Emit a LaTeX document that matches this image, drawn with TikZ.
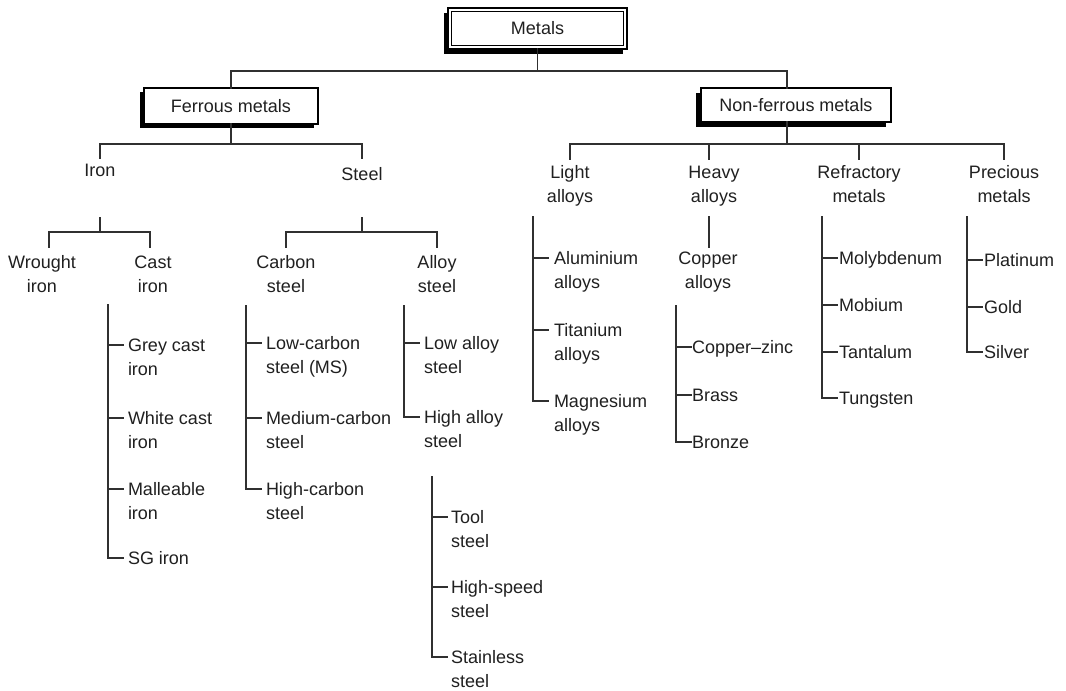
\documentclass[tikz,border=0pt]{standalone}
\usepackage{fontspec}
\setmainfont{Liberation Sans}
\usetikzlibrary{shadows}
\definecolor{ln}{HTML}{303030}
\definecolor{txt}{HTML}{202020}
\newcommand{\twoc}[2]{\vtop{\halign{\hfil##\hfil\cr #1\cr #2\cr}}}
\newcommand{\twol}[2]{\vtop{\halign{##\hfil\cr #1\cr #2\cr}}}
\newcommand{\leafnode}[6]{%
  \coordinate (#1-t) at (#2,#3);
  \node[lbll] (#1) at (#4,#3+6.5) {#6};
  \draw[conn,shorten >=#5pt] (#1-t) -- (#1-t -| #1.west);
}
\begin{document}
\begin{tikzpicture}[x=1pt,y=-1pt,
  font=\fontsize{18}{24}\selectfont,
  conn/.style={draw=ln,line width=1.1pt,line cap=rect},
  lbl/.style={inner sep=0pt,outer sep=0pt,anchor=base,text=txt},
  lbll/.style={lbl,anchor=base west},
  box/.style={draw=black,fill=white,line width=2pt,inner sep=0pt,outer sep=0pt,text=txt}]
\fill[white] (0,0) rectangle (1066,691);
\useasboundingbox (0,0) rectangle (1066,691);

% boxes
\node[box,minimum width=179pt,minimum height=41pt,line width=2.2pt,
  drop shadow={shadow xshift=-4pt,shadow yshift=-5pt,fill=black,opacity=1}] (metals) at (537.5,28.5) {Metals};
\draw[line width=0.8pt] ([shift={(3.5,3.5)}]metals.north west) rectangle ([shift={(-3.5,-3.5)}]metals.south east);
\node[box,minimum width=174pt,minimum height=36pt,
  drop shadow={shadow xshift=-4pt,shadow yshift=-4pt,fill=black,opacity=1}] (ferrous) at (231,106) {Ferrous metals};
\node[box,minimum width=190pt,minimum height=34pt,
  drop shadow={shadow xshift=-5pt,shadow yshift=-5pt,fill=black,opacity=1}] (nonferrous) at (796,105) {Non-ferrous metals};

% category labels
\node[lbl] (iron) at (100,176) {Iron};
\node[lbl] (steel) at (362,180) {Steel};
\node[lbl] (wrought) at (42,268) {\twoc{Wrought}{iron}};
\node[lbl] (cast) at (153,268) {\twoc{Cast}{iron}};
\node[lbl] (carbon) at (286,268) {\twoc{Carbon}{steel}};
\node[lbl] (alloy) at (437,268) {\twoc{Alloy}{steel}};
\node[lbl] (light) at (570,178) {\twoc{Light}{alloys}};
\node[lbl] (heavy) at (714,178) {\twoc{Heavy}{alloys}};
\node[lbl] (refr) at (859,178) {\twoc{Refractory}{metals}};
\node[lbl] (prec) at (1004,178) {\twoc{Precious}{metals}};
\node[lbl] (copper) at (708,264) {\twoc{Copper}{alloys}};

% top connectors
\coordinate (mj) at (537.5,71);
\coordinate (fj) at (231,144);
\coordinate (nfj) at (787,144);
\draw[conn] (metals.south) -- (mj);
\draw[conn] (ferrous.north) |- (mj) -| (nonferrous.north -| nfj);
\draw[conn] (ferrous.south) -- (fj);
\draw[conn,shorten >=5pt] (fj) -| (iron.north);
\draw[conn,shorten >=9pt] (fj) -| (steel.north);
\draw[conn] (nonferrous.south -| nfj) -- (nfj);
\draw[conn,shorten >=6pt] (nfj) -| (light.north);
\draw[conn,shorten >=6pt] (nfj) -| ([xshift=-5pt]heavy.north);
\draw[conn,shorten >=6pt] (nfj) -| (refr.north);
\draw[conn,shorten >=6pt] (nfj) -| (prec.north);

% iron / steel subdivisions
\coordinate (ironj) at (100,232);
\coordinate (steelj) at (362,232);
\draw[conn,shorten <=41pt] (iron.south) -- (ironj);
\draw[conn,shorten >=8pt] (ironj) -| ([xshift=7pt]wrought.north);
\draw[conn,shorten >=8pt] (ironj) -| ([xshift=-3pt]cast.north);
\draw[conn,shorten <=37pt] (steel.south) -- (steelj);
\draw[conn,shorten >=8pt] (steelj) -| (carbon.north);
\draw[conn,shorten >=8pt] (steelj) -| (alloy.north);

% heavy -> copper alloys
\coordinate (heavyst) at (709,217);
\draw[conn,shorten >=4pt] (heavyst) -- (heavyst |- copper.north);

% cast iron
\leafnode{grey}{108}{345}{128}{5}{\twol{Grey cast}{iron}}
\leafnode{whiteci}{108}{418}{128}{5}{\twol{White cast}{iron}}
\leafnode{mall}{108}{489}{128}{5}{\twol{Malleable}{iron}}
\leafnode{sg}{108}{558}{128}{5}{SG iron}
\coordinate (castsp) at (108,305);
\draw[conn] (castsp) -- (sg-t);

% carbon steel
\leafnode{lowc}{246}{343}{266}{5}{\twol{Low-carbon}{steel (MS)}}
\leafnode{medc}{246}{418}{266}{5}{\twol{Medium-carbon}{steel}}
\leafnode{highc}{246}{489}{266}{5}{\twol{High-carbon}{steel}}
\coordinate (carbsp) at (246,306);
\draw[conn] (carbsp) -- (highc-t);

% alloy steel
\leafnode{lowa}{404}{343}{424}{5}{\twol{Low alloy}{steel}}
\leafnode{higha}{404}{417}{424}{5}{\twol{High alloy}{steel}}
\coordinate (allsp) at (404,306);
\draw[conn] (allsp) -- (higha-t);

% high alloy steel
\leafnode{tool}{432}{517}{451}{4}{\twol{Tool}{steel}}
\leafnode{hss}{432}{587}{451}{4}{\twol{High-speed}{steel}}
\leafnode{stain}{432}{657}{451}{4}{\twol{Stainless}{steel}}
\coordinate (hasp) at (432,477);
\draw[conn] (hasp) -- (stain-t);

% light alloys
\leafnode{alu}{533}{258}{554}{6}{\twol{Aluminium}{alloys}}
\leafnode{tita}{533}{330}{554}{6}{\twol{Titanium}{alloys}}
\leafnode{magn}{533}{401}{554}{6}{\twol{Magnesium}{alloys}}
\coordinate (lightsp) at (533,217);
\draw[conn] (lightsp) -- (magn-t);

% copper alloys
\leafnode{cuzn}{676}{347}{692}{1}{Copper--zinc}
\leafnode{brass}{676}{395}{692}{1}{Brass}
\leafnode{bronze}{676}{442}{692}{1}{Bronze}
\coordinate (cusp) at (676,306);
\draw[conn] (cusp) -- (bronze-t);

% refractory metals
\leafnode{moly}{822}{258}{839}{2}{Molybdenum}
\leafnode{mob}{822}{305}{839}{2}{Mobium}
\leafnode{tant}{822}{352}{839}{2}{Tantalum}
\leafnode{tung}{822}{398}{839}{2}{Tungsten}
\coordinate (refsp) at (822,217);
\draw[conn] (refsp) -- (tung-t);

% precious metals
\leafnode{plat}{967}{260}{984}{2}{Platinum}
\leafnode{gold}{967}{307}{984}{2}{Gold}
\leafnode{silver}{967}{352}{984}{2}{Silver}
\coordinate (presp) at (967,217);
\draw[conn] (presp) -- (silver-t);
\end{tikzpicture}
\end{document}
